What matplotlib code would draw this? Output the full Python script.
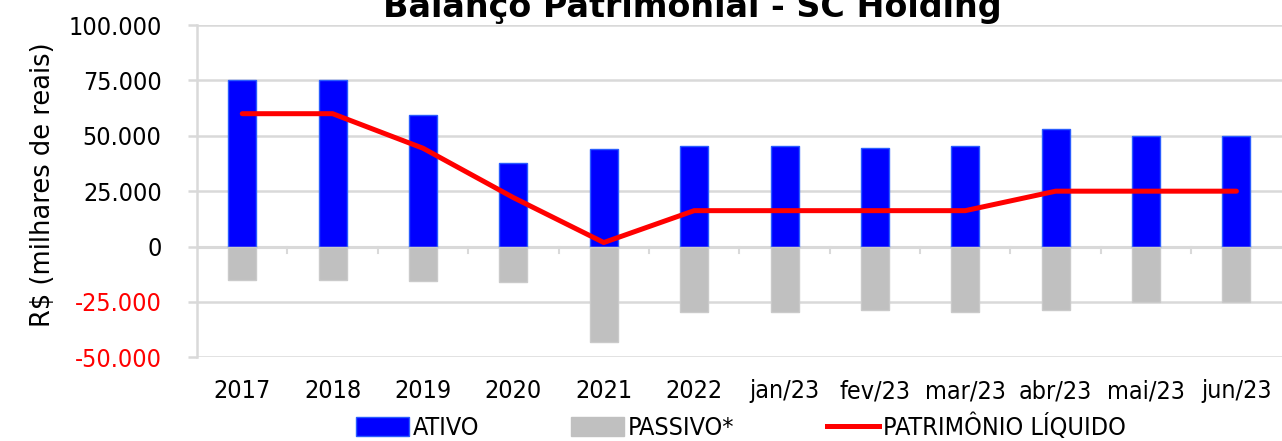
import numpy as np
import matplotlib.pyplot as plt
from matplotlib.patches import Patch
from matplotlib.lines import Line2D

categorias = ["2017", "2018", "2019", "2020", "2021", "2022",
              "jan/23", "fev/23", "mar/23", "abr/23", "mai/23", "jun/23"]
ativo = [75.0, 75.0, 59.4, 37.6, 44.0, 45.3, 45.3, 44.4, 45.3, 53.0, 50.0, 50.0]
passivo = [-15.3, -15.3, -15.8, -16.2, -43.2, -29.6, -29.6, -28.8, -29.6, -28.8, -25.2, -25.2]
patrimonio = [60.0, 60.0, 44.4, 22.1, 1.8, 16.2, 16.2, 16.2, 16.2, 25.0, 25.0, 25.0]
yticks = [-50, -25, 0, 25, 50, 75, 100]
ytick_labels = ["-50.000", "-25.000", "0", "25.000", "50.000", "75.000", "100.000"]

cond = dict(family='DejaVu Sans', stretch='condensed')
grid_c = '#d9d9d9'

fig = plt.figure(figsize=(12.82, 4.41), dpi=100)
ax = fig.add_axes([0.1537, 0.19, 0.846, 0.753])

x = np.arange(len(categorias))
ax.bar(x, ativo, width=0.31, color='#0000ff', edgecolor='#2a5cff', linewidth=1, zorder=3)
ax.bar(x, passivo, width=0.31, color='#c0c0c0', edgecolor='#cacaca', linewidth=1, zorder=3)
ax.plot(x, patrimonio, color='#ff0000', linewidth=3.6, solid_capstyle='round', zorder=4)

ax.set_xlim(-0.5, len(categorias) - 0.5)
ax.set_ylim(-50, 100)
ax.set_yticks(yticks)
ax.set_yticklabels(ytick_labels, **cond)
for lab in ax.get_yticklabels():
    if lab.get_text().startswith("-"):
        lab.set_color('#ff0000')
ax.tick_params(axis='y', labelsize=18, length=6.5, width=1.8, color=grid_c, pad=19)
ax.grid(axis='y', color=grid_c, linewidth=1.8, zorder=0)
ax.axhline(0, color=grid_c, linewidth=2.2, zorder=2)
# marcas das categorias sobre o eixo zero
for b in np.arange(0.5, len(categorias) - 0.5, 1.0):
    ax.plot([b, b], [0, -2.8], color=grid_c, linewidth=1.5, zorder=2)

ax.set_xticks(x)
ax.set_xticklabels(categorias, **cond)
ax.tick_params(axis='x', labelsize=18, length=0, pad=16)

for s in ['top', 'right', 'bottom']:
    ax.spines[s].set_visible(False)
ax.spines['left'].set_color(grid_c)
ax.spines['left'].set_linewidth(1.8)

ax.set_ylabel("R$ (milhares de reais)", fontsize=18.5)
ax.yaxis.set_label_coords(-0.13, 0.52)

fig.text(0.54, 0.983, "Balanço Patrimonial - SC Holding", ha='center', va='center',
         fontsize=24, fontweight='bold')

handles = [Patch(facecolor='#0000ff', edgecolor='#2a5cff'),
           Patch(facecolor='#c0c0c0', edgecolor='#c0c0c0'),
           Line2D([0], [0], color='#ff0000', linewidth=3.6)]
fig.legend(handles, ["ATIVO", "PASSIVO*", "PATRIMÔNIO LÍQUIDO"], loc='center',
           bbox_to_anchor=(0.578, 0.032), ncol=3, frameon=False, handlelength=2.1,
           handleheight=0.75, handletextpad=0.15, columnspacing=3.7,
           prop={'family': 'DejaVu Sans', 'stretch': 'condensed', 'size': 18})

fig.savefig("out.png", dpi=100)
